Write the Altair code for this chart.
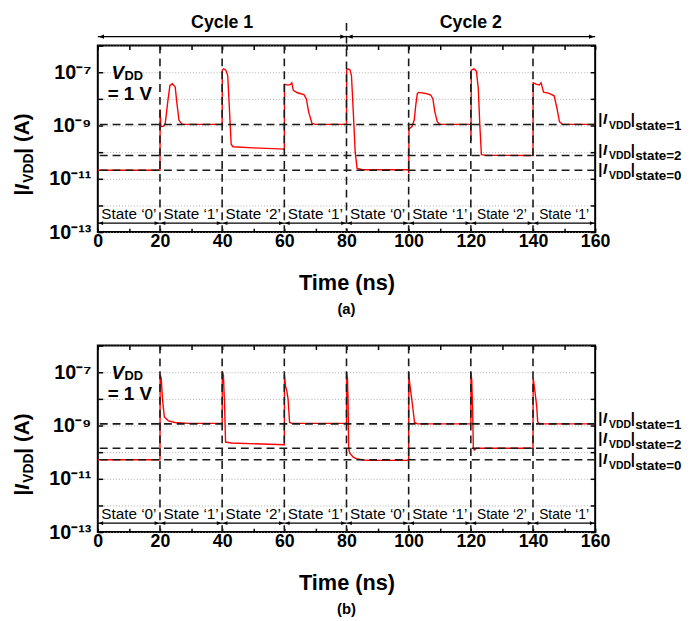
import altair as alt
import pandas as pd

FONT = "Liberation Sans"
W, H = 504, 189

# ---------------- data ----------------
# panel (a): time (ns) and |I_VDD| (A)
t_a = [0, 20, 20.05, 20.3, 21.2, 21.7, 22.5, 23.2, 24.0, 24.9, 25.4, 26.1, 27.1, 40,
       40.05, 40.5, 41.2, 41.8, 42.4, 42.9, 43.5, 50, 60,
       60.05, 61.2, 62.0, 62.4, 62.9, 64.2, 66.3, 67.1, 67.8, 68.9, 70, 80,
       80.05, 80.5, 81.1, 81.6, 82.2, 82.8, 83.4, 85, 100,
       100.03, 100.1, 101.0, 101.8, 102.3, 102.8, 103.3, 105.5, 107.1, 107.8, 108.4, 109.2, 110, 120,
       120.05, 120.15, 121.0, 121.8, 122.4, 122.9, 123.4, 125, 140,
       140.05, 141.0, 142.0, 142.6, 143.4, 145.2, 146.8, 147.7, 148.5, 149.5, 160]
i_a = [2.1e-11, 2.1e-11, 4e-9, 9e-10, 9.5e-10, 1.2e-9, 7.7e-9, 3.2e-8, 3.7e-8, 2.8e-8, 7.7e-9, 1.6e-9, 1.1e-9, 1.1e-9,
       1.2e-7, 1.35e-7, 1.2e-7, 7.5e-8, 3e-9, 2e-10, 1.6e-10, 1.45e-10, 1.3e-10,
       3.5e-8, 3.3e-8, 3.5e-8, 4e-8, 2.1e-8, 1.7e-8, 1.45e-8, 1e-8, 3.3e-9, 1.2e-9, 1.1e-9, 1.1e-9,
       1.2e-7, 1.35e-7, 1.25e-7, 7.5e-8, 3e-9, 1e-10, 2.5e-11, 2.2e-11, 2.2e-11,
       1.6e-11, 7.5e-10, 9e-10, 1.6e-9, 6e-9, 1.6e-8, 1.75e-8, 1.6e-8, 1.4e-8, 1e-8, 3.3e-9, 1.4e-9, 1.1e-9, 1.1e-9,
       2.6e-10, 1.2e-7, 1.35e-7, 1.1e-7, 2.4e-8, 1e-9, 8e-11, 7.6e-11, 7.5e-11,
       4e-8, 3.6e-8, 3.3e-8, 4e-8, 1.8e-8, 1.6e-8, 1.3e-8, 4.5e-9, 1.4e-9, 1.1e-9, 1.1e-9]

# panel (b)
t_b = [0, 20, 20.05, 20.4, 20.8, 21.4, 22.7, 24.8, 29, 40,
       40.05, 40.4, 40.8, 41.1, 43, 60,
       60.05, 60.4, 60.8, 61.2, 61.7, 62.5, 80,
       80.05, 80.3, 80.5, 80.7, 81.0, 82.1, 83.1, 85.3, 87.4, 100,
       100.05, 100.3, 100.7, 101.4, 101.9, 102.8, 120,
       120.05, 120.3, 120.6, 120.8, 121.1, 121.8, 140,
       140.05, 140.4, 140.7, 141.2, 141.5, 142, 160]
i_b = [5.2e-11, 5.2e-11, 8e-8, 6e-8, 1e-8, 2.1e-9, 1.5e-9, 1.3e-9, 1.2e-9, 1.2e-9,
       1.1e-7, 8e-8, 5e-9, 2.4e-10, 2.2e-10, 1.9e-10,
       8e-8, 3e-8, 2e-8, 1e-8, 1.3e-9, 1.2e-9, 1.2e-9,
       1e-7, 6e-8, 1e-8, 1.4e-10, 9.4e-11, 6.6e-11, 5.7e-11, 5.1e-11, 4.9e-11, 4.9e-11,
       1e-7, 4e-8, 1.8e-8, 4e-9, 1.3e-9, 1.15e-9, 1.15e-9,
       1e-7, 5e-8, 3e-9, 1.5e-10, 1.2e-10, 1.4e-10, 1.4e-10,
       6e-8, 3e-8, 1.6e-8, 5e-9, 1.4e-9, 1.15e-9, 1.15e-9]

level_names = ["state=1", "state=2", "state=0"]
levels_a = [1.1e-9, 7.5e-11, 2.1e-11]
levels_b = [1.15e-9, 1.4e-10, 5.2e-11]

boundaries = [20, 40, 60, 80, 100, 120, 140]
state_names = ["State \u20180\u2019", "State \u20181\u2019", "State \u20182\u2019", "State \u20181\u2019",
               "State \u20180\u2019", "State \u20181\u2019", "State \u20182\u2019", "State \u20181\u2019"]
state_start = [0, 20, 40, 60, 80, 100, 120, 140]
state_end = [20, 40, 60, 80, 100, 120, 140, 160]
cycle_names = ["Cycle 1", "Cycle 2"]
cycle_start = [0, 80]
cycle_end = [80, 160]
cycle_split = [80]
x_ticks = list(range(0, 161, 10))
y_tick_exps = list(range(-13, -5))
y_label_exps = [-13, -11, -9, -7]

assert len(t_a) == len(i_a) and len(t_b) == len(i_b)

# ---------------- scales / axes ----------------
xs = alt.Scale(domain=[0, 160], nice=False)
ys = alt.Scale(type="log", domain=[1e-13, 1e-6])
y_tick_vals = [10.0 ** e for e in y_tick_exps]
SUP = str.maketrans("-0123456789", "\u207b\u2070\u00b9\u00b2\u00b3\u2074\u2075\u2076\u2077\u2078\u2079")
y_label_expr = " : ".join(
    f"round(log(datum.value)/LN10) == {e} ? '10{str(e).translate(SUP)}'" for e in y_label_exps) + " : ''"

TK = dict(tickColor="black", tickWidth=1.5, domain=False, title=None)
x_axis = alt.Axis(orient="bottom", values=x_ticks, labelExpr="datum.value % 20 == 0 ? datum.label : ''",
                  tickSize=4, offset=-4, domain=False, grid=False, title="Time (ns)", labelFontSize=18,
                  titleFontSize=22, labelPadding=1, titlePadding=22, tickColor="black", tickWidth=1.5,
                  labelFlush=False, labelOverlap=False)
x_axis_top = alt.Axis(orient="top", values=x_ticks, labels=False, tickSize=4, offset=-4, grid=False, **TK)
y_axis = alt.Axis(orient="left", values=y_tick_vals, labelExpr=y_label_expr, tickSize=5, offset=-5,
                  grid=True, gridDash=[1, 2], gridColor="#9a9a9a", gridWidth=0.8, labelFontSize=20,
                  labelPadding=7, labelOverlap=False, **TK)
y_axis_right = alt.Axis(orient="right", values=y_tick_vals, labels=False, tickSize=5, offset=-5,
                        grid=False, **TK)

DASH = [8, 5]
DCOL = "#1a1a1a"
ONE = pd.DataFrame({"k": [0]})
LEFT_HEAD = "M0.3,0L2.3,-0.8L2.3,0.8Z"
RIGHT_HEAD = "M-0.3,0L-2.3,-0.8L-2.3,0.8Z"


def txt(s, x, y, size, italic=False, angle=None, dx=0, dy=0):
    kw = dict(text=s, font=FONT, fontSize=size, fontWeight="bold", align="left",
              baseline="alphabetic", color="black")
    if italic:
        kw["fontStyle"] = "italic"
    if angle is not None:
        kw["angle"] = angle
    if dx:
        kw["dx"] = dx
    if dy:
        kw["dy"] = dy
    return alt.Chart(ONE).mark_text(**kw).encode(x=alt.value(x), y=alt.value(y))


def level_txt(s, lvl, x, size, italic=False, dy=0):
    kw = dict(text=s, font=FONT, fontSize=size, fontWeight="bold", align="left",
              baseline="alphabetic", color="black", dy=dy)
    if italic:
        kw["fontStyle"] = "italic"
    return alt.Chart(pd.DataFrame({"level": [lvl]})).mark_text(**kw).encode(
        x=alt.value(x), y=alt.Y("level:Q", scale=ys, axis=None))


def arrows(df, ypix, size):
    rule = alt.Chart(df).mark_rule(color="black", strokeWidth=1.3).encode(
        x=alt.X("s:Q", scale=xs, axis=None), x2="e:Q", y=alt.value(ypix))
    lh = alt.Chart(df).mark_point(shape=LEFT_HEAD, filled=True, color="black", size=size, opacity=1).encode(
        x=alt.X("s:Q", scale=xs, axis=None), y=alt.value(ypix))
    rh = alt.Chart(df).mark_point(shape=RIGHT_HEAD, filled=True, color="black", size=size, opacity=1).encode(
        x=alt.X("e:Q", scale=xs, axis=None), y=alt.value(ypix))
    return [rule, lh, rh]


def panel(t, cur, levels, label_dy, caption, top_extras, ytitle_y):
    layers = []
    line = alt.Chart(pd.DataFrame({"t": t, "I": cur})).mark_line(color="#ff0000", strokeWidth=1.4).encode(
        x=alt.X("t:Q", scale=xs, axis=x_axis), y=alt.Y("I:Q", scale=ys, axis=y_axis))
    layers.append(line)

    vb = [b for b in boundaries if not (top_extras and b in cycle_split)]
    vl = alt.Chart(pd.DataFrame({"b": vb})).mark_rule(color=DCOL, strokeDash=DASH, strokeWidth=1.6).encode(
        x=alt.X("b:Q", scale=xs, axis=x_axis_top))
    layers.append(vl)
    hl = alt.Chart(pd.DataFrame({"level": levels})).mark_rule(color=DCOL, strokeDash=DASH, strokeWidth=1.6).encode(
        y=alt.Y("level:Q", scale=ys, axis=y_axis_right))
    layers.append(hl)

    # state labels and arrows
    st = pd.DataFrame({"name": state_names, "s": state_start, "e": state_end})
    layers.append(alt.Chart(st).transform_calculate(mid="(datum.s + datum.e) / 2").mark_text(
        font=FONT, baseline="alphabetic", color="black").encode(
        x=alt.X("mid:Q", scale=xs, axis=None), y=alt.value(H - 13), text="name:N",
        size=alt.condition("datum.s >= 120", alt.value(14), alt.value(15.5))))
    layers += arrows(st, H - 9, 22)

    # V_DD = 1 V
    layers.append(txt("V", 14, 34, 19, italic=True))
    layers.append(txt("DD", 27, 35, 13))
    layers.append(txt("= 1 V", 10, 55, 19))

    # right-hand level labels |I_VDD|state=x
    for lvl, name, dy in zip(levels, level_names, label_dy):
        layers.append(level_txt("|", lvl, W + 3, 15, dy=dy))
        layers.append(level_txt("I", lvl, W + 8, 15, italic=True, dy=dy))
        layers.append(level_txt("VDD", lvl, W + 14, 10.5, dy=dy + 5))
        layers.append(level_txt("|", lvl, W + 36, 15, dy=dy))
        layers.append(level_txt(name, lvl, W + 40.5, 13.5, dy=dy + 6))

    # rotated y title |I_VDD| (A)
    layers.append(txt("|", -70, ytitle_y, 21, angle=270))
    layers.append(txt("I", -70, ytitle_y, 21, italic=True, angle=270, dx=6))
    layers.append(txt("VDD", -70, ytitle_y, 14, angle=270, dx=13, dy=4))
    layers.append(txt("| (A)", -70, ytitle_y, 21, angle=270, dx=42.5))

    if top_extras:
        cy = pd.DataFrame({"name": cycle_names, "s": cycle_start, "e": cycle_end})
        layers.append(alt.Chart(pd.DataFrame({"b": cycle_split})).mark_rule(
            color=DCOL, strokeDash=DASH, strokeWidth=1.6).encode(
            x=alt.X("b:Q", scale=xs, axis=None), y=alt.value(-23), y2=alt.value(H)))
        layers += arrows(cy, -9, 30)
        layers.append(alt.Chart(cy).transform_calculate(mid="(datum.s + datum.e) / 2").mark_text(
            font=FONT, fontSize=18, fontWeight="bold", baseline="alphabetic", color="black").encode(
            x=alt.X("mid:Q", scale=xs, axis=None), y=alt.value(-18), text="name:N"))

    return alt.layer(*layers).resolve_axis(x="independent", y="independent").properties(
        width=W, height=H,
        title=alt.TitleParams(caption, orient="bottom", fontSize=15, font=FONT, fontWeight="bold",
                              color="black", offset=9))


pa = panel(t_a, i_a, levels_a, [0, -1, 4], "(a)", True, 152)
pb = panel(t_b, i_b, levels_b, [-1, -5, 4], "(b)", False, 152)

chart = alt.vconcat(pa, pb, spacing=17).properties(
    padding={"left": 3, "top": 1, "right": 0, "bottom": 0}
).configure_view(stroke="black", strokeWidth=2).configure_axis(
    labelFont=FONT, titleFont=FONT, labelFontWeight="bold", titleFontWeight="bold",
    labelColor="black", titleColor="black")

chart.save("out.html", embed_options={"renderer": "svg", "actions": False})
